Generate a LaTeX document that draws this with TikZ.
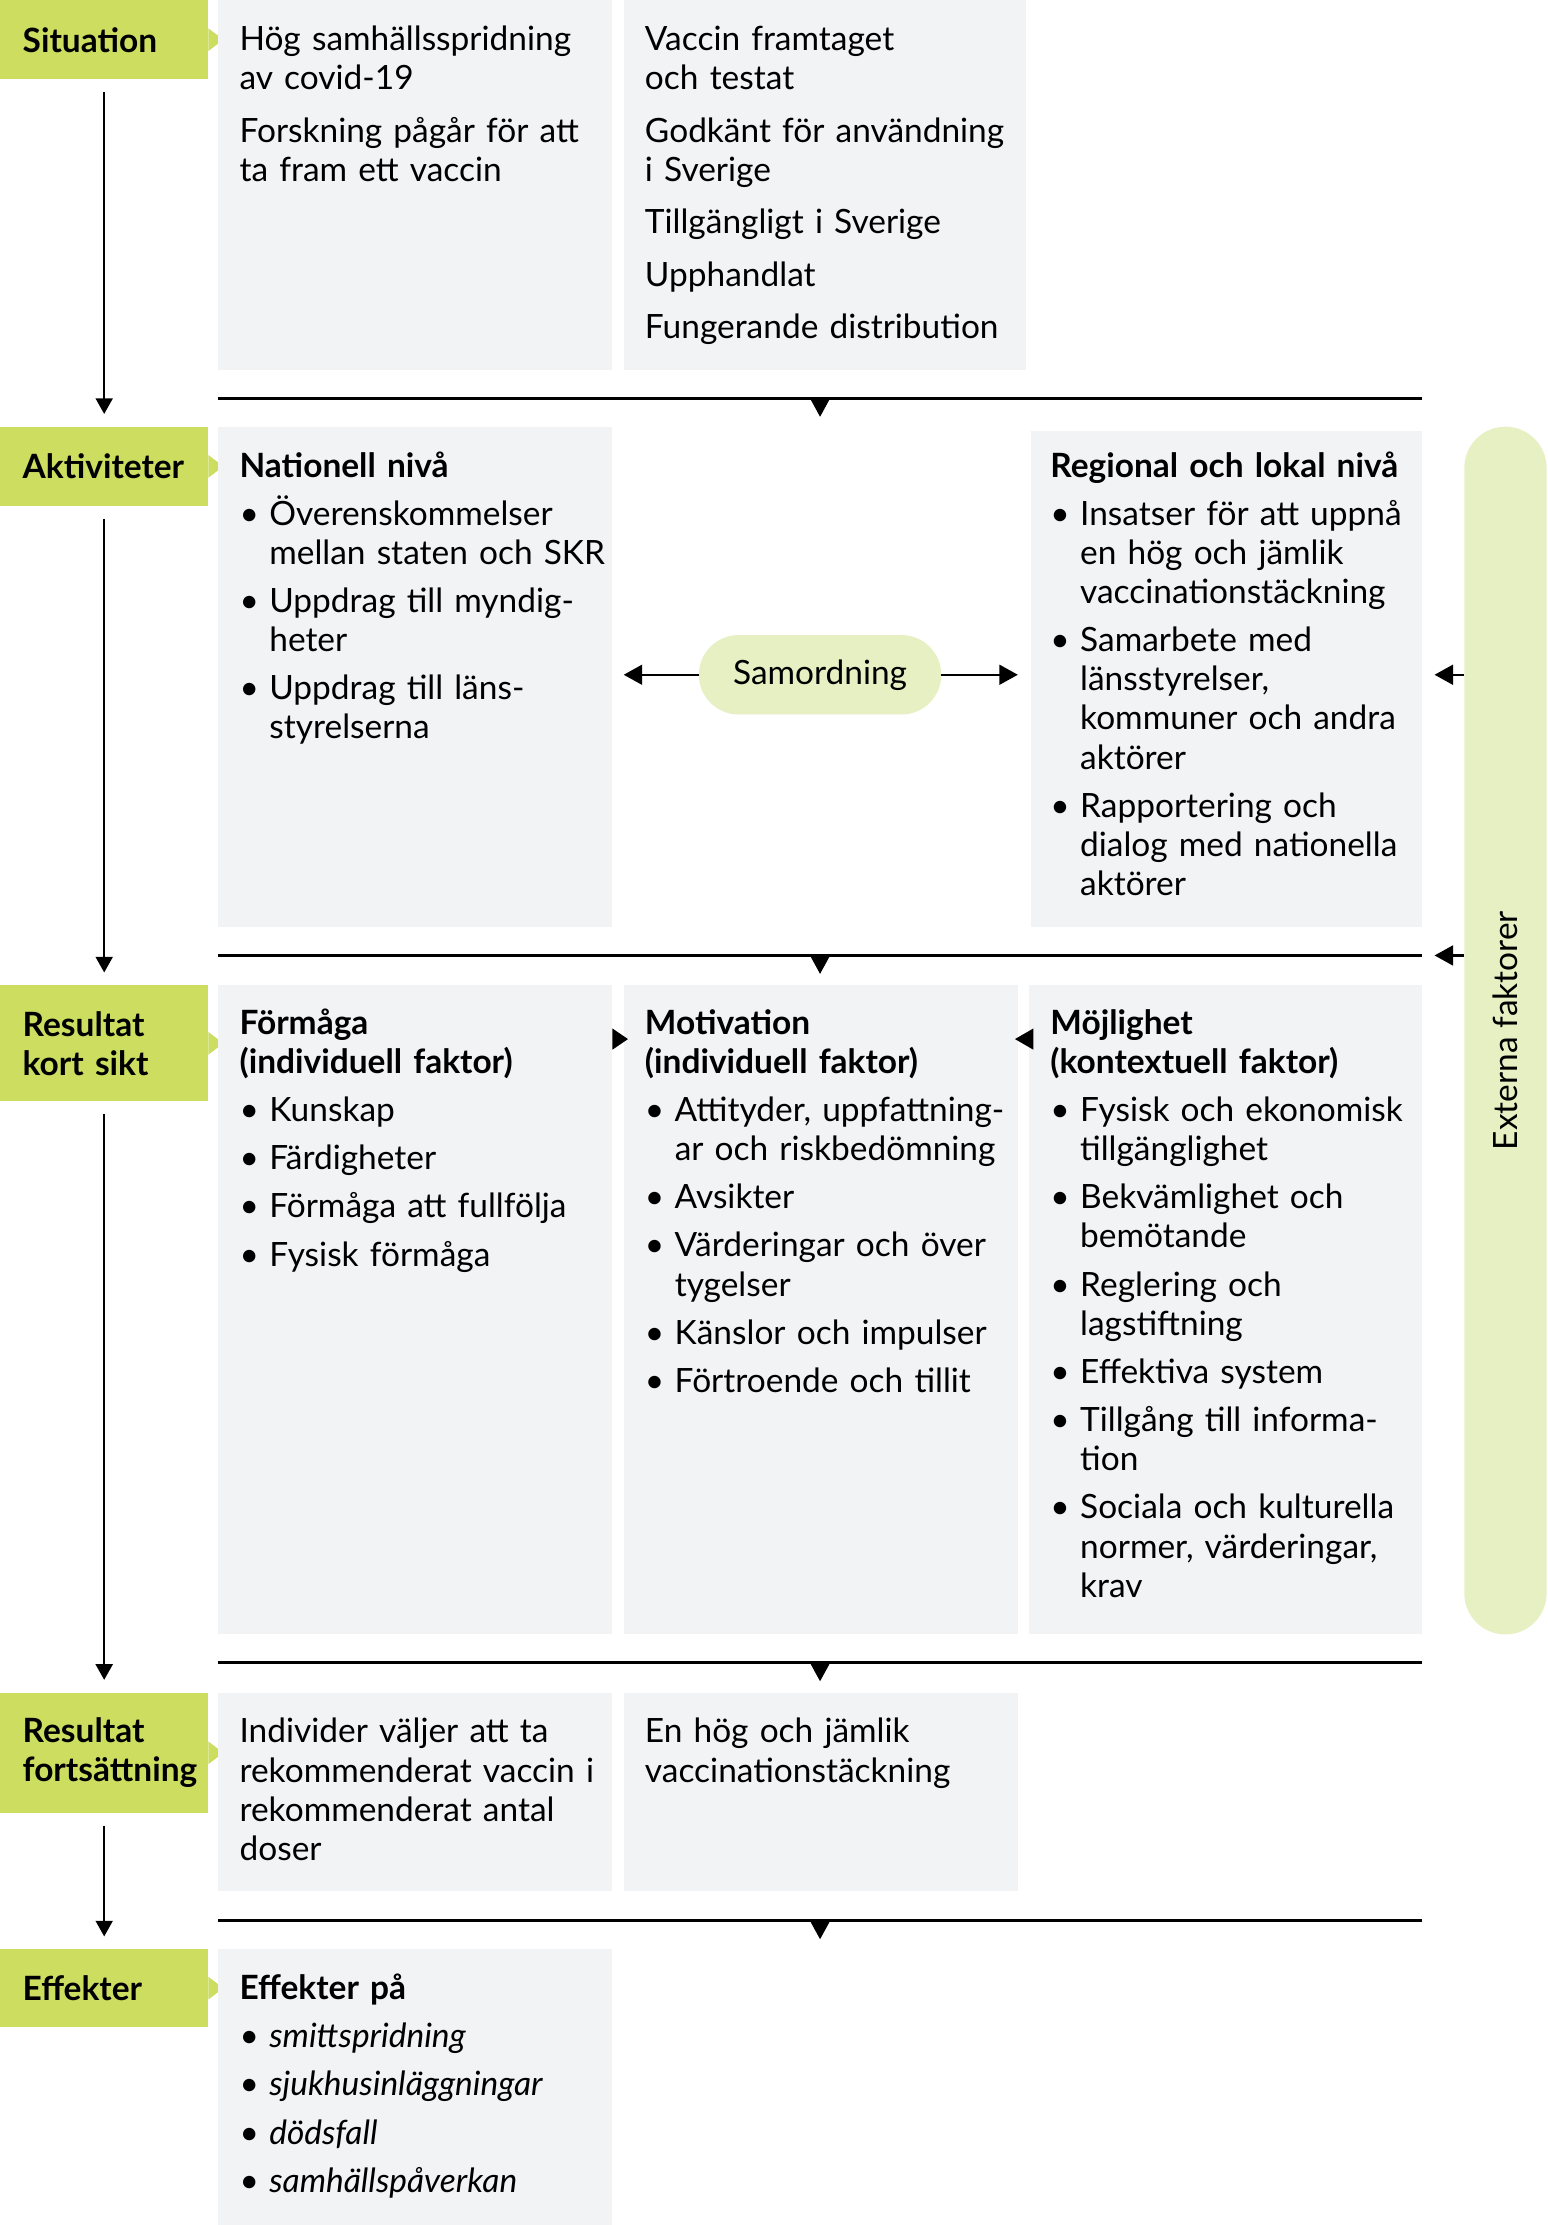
\documentclass[tikz,border=0pt]{standalone}
\usepackage{fontspec}
\setmainfont{Lato}
\usetikzlibrary{arrows.meta,fit}

\definecolor{stagegreen}{RGB}{204,221,96}
\definecolor{boxgray}{RGB}{242,243,245}
\definecolor{palegreen}{RGB}{231,240,194}

\newcommand{\bpoint}[1]{\hangindent=10.5pt\hangafter=1\noindent\makebox[10.5pt][l]{\textbullet}{\let\\\newline#1}\par}

\begin{document}
\begin{tikzpicture}[x=0.5pt,y=-0.5pt,
  every node/.style={inner sep=0pt,outer sep=0pt},
  stage/.style={fill=stagegreen,anchor=north west,minimum width=73.5pt,text width=57.5pt,inner xsep=8pt,align=left,font=\bfseries\fontsize{11.8}{13.8}\selectfont},
  cell/.style={fill=boxgray},
  pill/.style={fill=palegreen,font=\fontsize{11.8}{13.8}\selectfont},
  txt/.style={anchor=north west,text width=140pt,font=\fontsize{11.8}{13.8}\selectfont,execute at begin node={\setlength{\parskip}{#1}\rule{0pt}{11pt}}},
  txt/.default=3.2pt,
  bar/.style={line width=1pt},
  varrow/.style={line width=0.65pt,-{Triangle[length=5.5pt,width=6pt]}},
  harrow/.style={line width=0.75pt,-{Triangle[length=6.5pt,width=7pt]}},
  bartip/.style={-{Triangle[length=6.5pt,width=7pt]}}]

\path[use as bounding box,fill=white] (0,0) rectangle (1092,1569.6);

\node[stage,minimum height=28pt] (sit) at (0,0) {Situation};
\node[stage,minimum height=28pt] (akt) at (0,301) {Aktiviteter};
\node[stage,minimum height=41pt] (kort) at (0,695) {Resultat\\kort sikt};
\node[stage,minimum height=42.5pt] (fort) at (0,1194) {Resultat\\fortsättning};
\node[stage,minimum height=27.5pt] (eff) at (0,1375) {Effekter};

\foreach \n in {sit,akt,kort,fort,eff}
  \fill[stagegreen] (\n.east) ++(0,-8) -- ++(10.5,8) -- ++(-10.5,8) -- cycle;

\node[cell,fit={(154,0)(432,261)}] (sitA) {};
\node[cell,fit={(440,0)(724,261)}] (sitB) {};
\node[cell,fit={(154,301)(432,654)}] (nat) {};
\node[cell,fit={(727,304)(1003,654)}] (reg) {};
\node[cell,fit={(154,695)(432,1153)}] (frm) {};
\node[cell,fit={(440,695)(718,1153)}] (mot) {};
\node[cell,fit={(726,695)(1003,1153)}] (moj) {};
\node[cell,fit={(154,1194)(432,1334)}] (indiv) {};
\node[cell,fit={(440,1194)(718,1334)}] (hog) {};
\node[cell,fit={(154,1375)(432,1570)}] (effc) {};

\node[txt=4.75pt] (sitAt) at ([shift={(15,13.5)}]sitA.north west) {Hög samhällsspridning\\av covid-19\par
  Forskning pågår för att\\ta fram ett vaccin};
\node[txt=4.75pt] (sitBt) at ([shift={(15,13.5)}]sitB.north west) {Vaccin framtaget\\och testat\par
  Godkänt för användning\\i Sverige\par
  Tillgängligt i Sverige\par
  Upphandlat\par
  Fungerande distribution};
\node[txt] (natt) at ([shift={(15,13.5)}]nat.north west) {\textbf{Nationell nivå}\par
  \bpoint{Överenskommelser\\mellan staten och SKR}
  \bpoint{Uppdrag till myndig-\\heter}
  \bpoint{Uppdrag till läns-\\styrelserna}};
\node[txt] (regt) at ([shift={(14,10.5)}]reg.north west) {\textbf{Regional och lokal nivå}\par
  \bpoint{Insatser för att uppnå\\en hög och jämlik\\vaccinationstäckning}
  \bpoint{Samarbete med\\länsstyrelser,\\kommuner och andra\\aktörer}
  \bpoint{Rapportering och\\dialog med nationella\\aktörer}};
\node[txt] (frmt) at ([shift={(15,12.5)}]frm.north west) {\textbf{Förmåga\\(individuell faktor)}\par
  \bpoint{Kunskap}
  \bpoint{Färdigheter}
  \bpoint{Förmåga att fullfölja}
  \bpoint{Fysisk förmåga}};
\node[txt] (mott) at ([shift={(15,12.5)}]mot.north west) {\textbf{Motivation\\(individuell faktor)}\par
  \bpoint{Attityder, uppfattning-\\ar och riskbedömning}
  \bpoint{Avsikter}
  \bpoint{Värderingar och över\\tygelser}
  \bpoint{Känslor och impulser}
  \bpoint{Förtroende och tillit}};
\node[txt] (mojt) at ([shift={(15,12.5)}]moj.north west) {\textbf{Möjlighet\\(kontextuell faktor)}\par
  \bpoint{Fysisk och ekonomisk\\tillgänglighet}
  \bpoint{Bekvämlighet och\\bemötande}
  \bpoint{Reglering och\\lagstiftning}
  \bpoint{Effektiva system}
  \bpoint{Tillgång till informa-\\tion}
  \bpoint{Sociala och kulturella\\normer, värderingar,\\krav}};
\node[txt] (indivt) at ([shift={(15,13.5)}]indiv.north west) {Individer väljer att ta\\rekommenderat vaccin i\\rekommenderat antal\\doser};
\node[txt] (hogt) at ([shift={(15,13.5)}]hog.north west) {En hög och jämlik\\vaccinationstäckning};
\node[txt] (effct) at ([shift={(15,13.5)}]effc.north west) {\textbf{Effekter på}\par
  \bpoint{\textit{smittspridning}}
  \bpoint{\textit{sjukhusinläggningar}}
  \bpoint{\textit{dödsfall}}
  \bpoint{\textit{samhällspåverkan}}};

\node[pill,minimum width=85.5pt,minimum height=28pt,rounded corners=14pt] (sam) at (578.5,476) {Samordning};
\node[pill,fit={(1033,301)(1091,1153)},rounded corners=14.5pt] (ext) {};
\node[rotate=90,font=\fontsize{11.8}{13.8}\selectfont] (extt) at (ext.center) {Externa faktorer};

\draw[varrow] ([yshift=-4.5pt]sit.south) -- ([yshift=4.5pt]akt.north);
\draw[varrow] ([yshift=-4.5pt]akt.south) -- ([yshift=4.5pt]kort.north);
\draw[varrow] ([yshift=-4.5pt]kort.south) -- ([yshift=4.5pt]fort.north);
\draw[varrow] ([yshift=-4.5pt]fort.south) -- ([yshift=4.5pt]eff.north);

\coordinate (b1) at ([yshift=-10pt]sitA.south west);
\coordinate (b2) at ([yshift=-10pt]nat.south west);
\coordinate (b3) at ([yshift=-10pt]frm.south west);
\coordinate (b4) at ([yshift=-10.5pt]indiv.south west);
\foreach \b in {b1,b2,b3,b4} {
  \draw[bar] (\b) -- (\b -| reg.east);
  \draw[bartip] (\b -| sam) -- ++(0,13);
}

\coordinate (sl) at (sam.west -| nat.east);
\coordinate (sr) at (sam.east -| reg.west);
\draw[harrow] (sam.west) -- ([xshift=4pt]sl);
\draw[harrow] (sam.east) -- ([xshift=-4.5pt]sr);

\coordinate (x1) at (sam -| reg.east);
\coordinate (x2) at (b2 -| reg.east);
\draw[harrow] (ext.west |- x1) -- ([xshift=4.5pt]x1);
\draw[harrow] (ext.west |- x2) -- ([xshift=4.5pt]x2);

\coordinate (fm) at ([yshift=-19pt]frm.north east);
\coordinate (mm) at ([yshift=-19pt]moj.north west);
\fill (fm) -- ++(0,-7.5) -- ++(11,7.5) -- ++(-11,7.5) -- cycle;
\fill ([xshift=1.5pt]mm) -- ++(0,-7.5) -- ++(-13,7.5) -- ++(13,7.5) -- cycle;
\end{tikzpicture}
\end{document}
